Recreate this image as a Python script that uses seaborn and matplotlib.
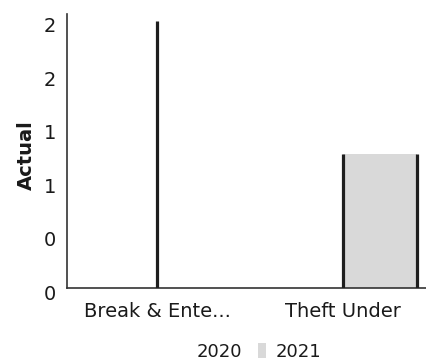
import matplotlib
matplotlib.use("Agg")
import matplotlib.pyplot as plt
from matplotlib.patches import Patch
from matplotlib.transforms import ScaledTranslation
import seaborn as sns
import pandas as pd

# Chart data
categories = ["Break & Ente...", "Theft Under"]
years = ["2020", "2021"]
actual_2020 = [2, 0]
actual_2021 = [0, 1]
y_ticks = [0, 0.4, 0.8, 1.2, 1.6, 2.0]
y_tick_labels = ["0", "0", "1", "1", "2", "2"]

df = pd.DataFrame({
    "Category": categories * 2,
    "Year": [years[0]] * len(categories) + [years[1]] * len(categories),
    "Actual": actual_2020 + actual_2021,
})

sns.set_theme(style="white")
plt.rcParams["font.family"] = ["DejaVu Sans"]

colors = {"2020": "#ffffff", "2021": "#d9d9d9"}
edge_color = "#1e1e1e"
text_color = "#1a1a1a"

fig = plt.figure(figsize=(4.27, 3.62), dpi=100)
ax = fig.add_axes([67 / 427, 1 - 288 / 362, 360 / 427, 274 / 362])

sns.barplot(data=df, x="Category", y="Actual", hue="Year", palette=colors,
            saturation=1, width=0.8, legend=False, ax=ax, linewidth=0)

# Dark vertical outlines on the bars
for i, container in enumerate(ax.containers):
    for bar in container.patches:
        x0 = bar.get_x()
        x1 = x0 + bar.get_width()
        h = bar.get_height()
        if h <= 0:
            continue
        xs = [x1] if years[i] == "2020" else [x0, x1]
        ax.vlines(xs, 0, h, colors=edge_color, linewidth=2.3, zorder=3)

ax.set_xlim(-0.484, 1.452)
ax.set_ylim(0, 2.05)
ax.set_yticks(y_ticks)
ax.set_yticklabels(y_tick_labels)
ax.set_xlabel("")
ax.set_ylabel("Actual", fontsize=14, fontweight="bold", color=text_color)
ax.yaxis.set_label_coords(-0.085, 0.485)

ax.tick_params(axis="x", length=0, pad=10, labelsize=14, colors=text_color)
ax.tick_params(axis="y", length=0, pad=8, labelsize=14, colors=text_color)

# Rounded y labels sit slightly below their ticks
shift = ScaledTranslation(0, -4 / 100, fig.dpi_scale_trans)
for lbl in ax.get_yticklabels():
    lbl.set_transform(lbl.get_transform() + shift)

for side in ["top", "right"]:
    ax.spines[side].set_visible(False)
for side in ["left", "bottom"]:
    ax.spines[side].set_color("#333333")
    ax.spines[side].set_linewidth(1.2)

handles = [Patch(facecolor=colors[y], edgecolor="none", label=y) for y in years]
fig.legend(handles=handles, loc="center", ncol=2, frameon=False,
           bbox_to_anchor=(250 / 427, 1 - 352 / 362), fontsize=13,
           handlelength=0.45, handleheight=0.9, handletextpad=0.5,
           columnspacing=0.9, labelcolor=text_color)

fig.savefig("out.png", dpi=100)
